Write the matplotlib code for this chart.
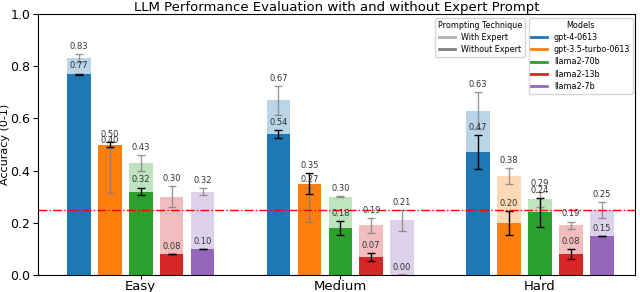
import numpy as np
import matplotlib
matplotlib.use("Agg")
import matplotlib.pyplot as plt
from matplotlib.lines import Line2D

difficulties = ["Easy", "Medium", "Hard"]
models = ["gpt-4-0613", "gpt-3.5-turbo-0613", "llama2-70b", "llama2-13b", "llama2-7b"]
colors = ["#1f77b4", "#ff7f0e", "#2ca02c", "#d62728", "#9467bd"]

# rows = models, columns = Easy / Medium / Hard
with_expert = np.array([
    [0.83, 0.67, 0.63],
    [0.40, 0.27, 0.38],
    [0.43, 0.30, 0.29],
    [0.30, 0.19, 0.19],
    [0.32, 0.21, 0.25],
])
with_expert_err = np.array([
    [0.015, 0.055, 0.072],
    [0.085, 0.065, 0.030],
    [0.030, 0.002, 0.030],
    [0.040, 0.030, 0.015],
    [0.013, 0.040, 0.030],
])
without_expert = np.array([
    [0.77, 0.54, 0.47],
    [0.50, 0.35, 0.20],
    [0.32, 0.18, 0.24],
    [0.08, 0.07, 0.08],
    [0.10, 0.00, 0.15],
])
without_expert_err = np.array([
    [0.002, 0.015, 0.065],
    [0.010, 0.040, 0.045],
    [0.015, 0.027, 0.055],
    [0.001, 0.015, 0.020],
    [0.001, 0.000, 0.001],
])
chance_level = 0.25

fig = plt.figure(figsize=(6.4, 2.92), dpi=100)
ax = fig.add_axes([0.059, 0.058, 0.933, 0.894])

x = np.arange(len(difficulties))
step = 0.155
width = 0.118

for i, m in enumerate(models):
    pos = x + (i - 2) * step
    ax.bar(pos, with_expert[i], width, color=colors[i], alpha=0.3,
           yerr=with_expert_err[i], ecolor="gray", capsize=3,
           error_kw={"elinewidth": 1, "capthick": 1, "alpha": 0.8})
    ax.bar(pos, without_expert[i], width, color=colors[i],
           yerr=without_expert_err[i], ecolor="black", capsize=3,
           error_kw={"elinewidth": 1, "capthick": 1})
    for j in range(len(difficulties)):
        ax.text(pos[j], with_expert[i, j] + with_expert_err[i, j] + 0.012,
                f"{with_expert[i, j]:.2f}", ha="center", va="bottom",
                fontsize=6, color="#333333")
        ax.text(pos[j], without_expert[i, j] + without_expert_err[i, j] + 0.012,
                f"{without_expert[i, j]:.2f}", ha="center", va="bottom",
                fontsize=6, color="#333333")

ax.axhline(chance_level, color="red", linestyle="-.", linewidth=1)

ax.set_xlim(-0.516, 2.476)
ax.set_ylim(0, 1)
ax.set_xticks(x)
ax.set_xticklabels(difficulties, fontsize=9.5)
ax.tick_params(axis="x", pad=0.5, length=3)
ax.tick_params(axis="y", labelsize=9, pad=2)
ax.set_ylabel("Accuracy (0-1)", fontsize=8, labelpad=0)
ax.set_title("LLM Performance Evaluation with and without Expert Prompt", fontsize=9.5, pad=2)

tech_handles = [Line2D([0], [0], color="gray", alpha=0.6, lw=2),
                Line2D([0], [0], color="gray", lw=2)]
leg1 = ax.legend(tech_handles, ["With Expert", "Without Expert"],
                 title="Prompting Technique", loc="upper right",
                 bbox_to_anchor=(0.816, 0.985), borderaxespad=0,
                 fontsize=5.8, title_fontsize=5.8, labelspacing=0.4,
                 handlelength=2, borderpad=0.35)
ax.add_artist(leg1)
model_handles = [Line2D([0], [0], color=c, lw=2) for c in colors]
ax.legend(model_handles, models, title="Models", loc="upper right",
          bbox_to_anchor=(0.997, 0.985), borderaxespad=0,
          fontsize=5.8, title_fontsize=5.8, labelspacing=0.4,
          handlelength=2, borderpad=0.35)

fig.savefig("out.png", dpi=100)
